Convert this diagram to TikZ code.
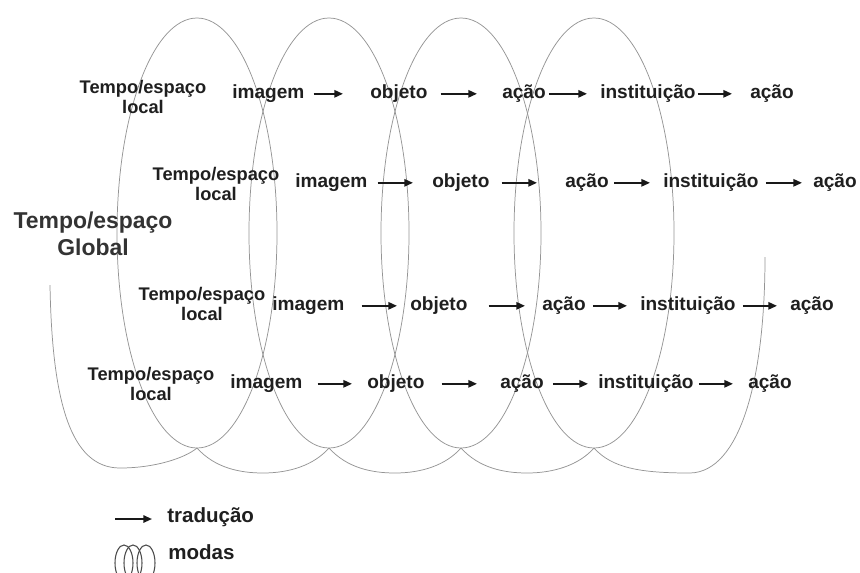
\documentclass[tikz,border=0pt]{standalone}
\usepackage{fontspec}
\setmainfont{Liberation Sans}
\usetikzlibrary{arrows.meta}
\begin{document}
\begin{tikzpicture}[x=0.75pt,y=-0.75pt,
  coil/.style={draw=black!42,line width=0.55pt},
  word/.style={anchor=base west,inner sep=0pt,font=\fontsize{14.3}{17}\selectfont\bfseries,text=black!88},
  loc/.style={align=center,inner sep=0pt,font=\fontsize{13.7}{15.4}\selectfont\bfseries,text=black!88},
  glob/.style={align=center,inner sep=0pt,font=\fontsize{17.2}{20.5}\selectfont\bfseries,text=black!80},
  leg/.style={anchor=mid west,inner sep=0pt,font=\fontsize{15.4}{18}\selectfont\bfseries,text=black!88},
  arr/.style={line width=1.35pt,draw=black!90,-{Triangle[length=6.5pt,width=5.5pt]}},
  icon/.style={draw=black!70,line width=0.8pt},
]
\fill[white] (0,0) rectangle (860,572);
\useasboundingbox (0,0) rectangle (860,572);

% coil loops
\foreach \cx in {197,329,461,594}{
  \draw[coil] (\cx,233) ellipse [x radius=60pt, y radius=161.25pt];
}
% lower connecting arcs
\draw[coil] (50,285) .. controls (52,400) and (70,468) .. (120,468)
  .. controls (155,468) and (185,458) .. (197,448);
\foreach \a/\b in {197/329,329/461,461/594}{
  \draw[coil] (\a,448) .. controls ({\a+18},468) and ({\a+43},473) .. ({\a+66},473)
    .. controls ({\a+93},473) and ({\b-15},465) .. (\b,448);
}
\draw[coil] (594,448) .. controls (612,468) and (640,473) .. (690,473)
  .. controls (740,472) and (765,380) .. (765,257);

% labels
\node[glob] (g) at (93,234) {Tempo/espaço\\Global};
\node[loc] (l1) at (143,97) {Tempo/espaço\\local};
\node[loc] (l2) at (216,184) {Tempo/espaço\\local};
\node[loc] (l3) at (202,304) {Tempo/espaço\\local};
\node[loc] (l4) at (151,384) {Tempo/espaço\\local};

% row 1
\node[word] (r1a) at (232,98) {imagem};
\node[word] (r1b) at (370,98) {objeto};
\node[word] (r1c) at (502,98) {ação};
\node[word] (r1d) at (600,98) {instituição};
\node[word] (r1e) at (750,98) {ação};
% row 2
\node[word] (r2a) at (295,187) {imagem};
\node[word] (r2b) at (432,187) {objeto};
\node[word] (r2c) at (565,187) {ação};
\node[word] (r2d) at (663,187) {instituição};
\node[word] (r2e) at (813,187) {ação};
% row 3
\node[word] (r3a) at (272,310) {imagem};
\node[word] (r3b) at (410,310) {objeto};
\node[word] (r3c) at (542,310) {ação};
\node[word] (r3d) at (640,310) {instituição};
\node[word] (r3e) at (790,310) {ação};
% row 4
\node[word] (r4a) at (230,388) {imagem};
\node[word] (r4b) at (367,388) {objeto};
\node[word] (r4c) at (500,388) {ação};
\node[word] (r4d) at (598,388) {instituição};
\node[word] (r4e) at (748,388) {ação};

\foreach \p/\q/\s/\e in {
  r1a/r1b/9/27, r1b/r1c/13/25, r1c/r1d/3/13, r1d/r1e/2/18,
  r2a/r2b/10/19, r2b/r2c/12/28, r2c/r2d/5/13, r2d/r2e/7/11,
  r3a/r3b/17/13, r3b/r3c/21/17, r3c/r3d/7/13, r3d/r3e/7/13,
  r4a/r4b/15/15, r4b/r4c/17/23, r4c/r4d/9/10, r4d/r4e/5/15}{
  \draw[arr] ([xshift=\s*0.75pt,yshift=0.5pt]\p.mid east) -- ([xshift=-\e*0.75pt,yshift=0.5pt]\q.mid west);
}

% legend
\coordinate (ta) at (115,519);
\node[leg] (trad) at (167,519) {tradução};
\draw[arr] (ta) -- ([xshift=-15*0.75pt]trad.mid west);
\node[leg] (modas) at (168,556) {modas};
\draw[icon] (124,563) ellipse [x radius=6.75pt, y radius=13.5pt];
\draw[icon] (133,563) ellipse [x radius=6.75pt, y radius=13.5pt];
\draw[icon] (146,563) ellipse [x radius=6.75pt, y radius=13.5pt];
\end{tikzpicture}
\end{document}
